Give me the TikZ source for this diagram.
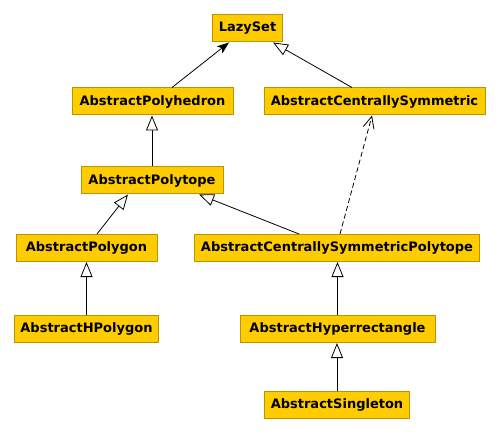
\documentclass[tikz,border=0pt]{standalone}
\usepackage{fontspec}
\setmainfont{DejaVu Sans}
\usetikzlibrary{arrows.meta}
\definecolor{classfill}{HTML}{FFCC00}
\definecolor{classline}{HTML}{B89400}

\begin{document}
\begin{tikzpicture}[x=1pt,y=-1pt,
    umlclass/.style={draw=classline,fill=classfill,line width=1pt,inner xsep=6pt,
                     minimum height=27pt,font=\fontsize{13}{15}\selectfont\bfseries},
    inherit/.style={line width=0.8pt,-{Triangle[open,length=15pt,width=12pt,fill=white]}},
    assoc/.style={line width=0.8pt,-{Stealth[length=12pt,width=9pt,inset=3pt]}},
    realize/.style={line width=0.8pt,dash pattern=on 5pt off 3pt,-{Straight Barb[length=12pt,width=11pt]}}]

    \useasboundingbox (0,0) rectangle (502,435);

    % Classes
    \node[umlclass,minimum width=69pt] (lazy) at (247.5,28.5) {LazySet};
    \node[umlclass,minimum width=161pt] (phedron) at (152.5,101.5) {AbstractPolyhedron};
    \node[umlclass,minimum width=221pt] (csym) at (374.5,101.5) {AbstractCentrallySymmetric};
    \node[umlclass,minimum width=142pt] (ptope) at (152,180.5) {AbstractPolytope};
    \node[umlclass,minimum width=141pt] (pgon) at (86.5,248) {AbstractPolygon};
    \node[umlclass,minimum width=284pt] (csptope) at (337,248) {AbstractCentrallySymmetricPolytope};
    \node[umlclass,minimum width=141pt] (hpgon) at (86.5,329) {AbstractHPolygon};
    \node[umlclass,minimum width=195pt] (hrect) at (337.5,329) {AbstractHyperrectangle};
    \node[umlclass,minimum width=144pt] (single) at (337,405) {AbstractSingleton};

    % Relations
    \draw[assoc] ([xshift=19.5pt]phedron.north) -- ([xshift=-18.5pt]lazy.south);
    \draw[inherit] ([xshift=-22.5pt]csym.north) -- ([xshift=25.5pt]lazy.south);
    \draw[inherit] (ptope.north) -- (ptope.north |- phedron.south);
    \draw[inherit] ([xshift=10.5pt]pgon.north) -- ([xshift=-24pt]ptope.south);
    \draw[inherit] ([xshift=-38pt]csptope.north) -- ([xshift=47pt]ptope.south);
    \draw[realize] ([xshift=3pt]csptope.north) -- ([xshift=-2.5pt]csym.south);
    \draw[inherit] (hpgon.north) -- (hpgon.north |- pgon.south);
    \draw[inherit] (hrect.north) -- (hrect.north |- csptope.south);
    \draw[inherit] (single.north) -- (single.north |- hrect.south);

\end{tikzpicture}
\end{document}
